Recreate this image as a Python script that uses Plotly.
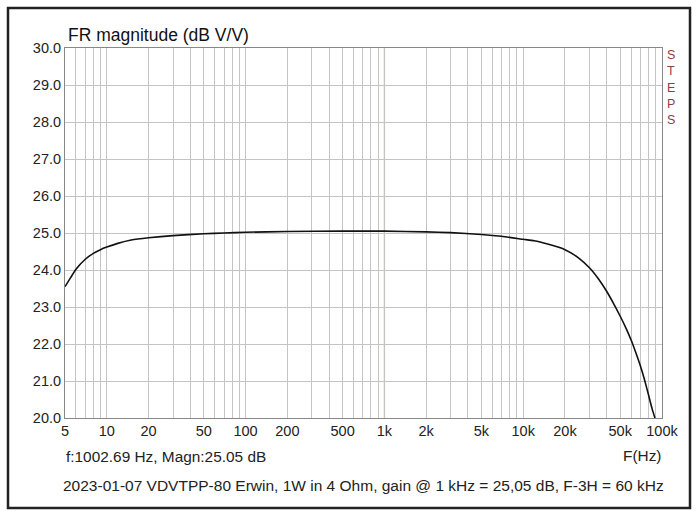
import plotly.graph_objects as go

# ---- data ----
freq_hz = [5, 5.5, 6, 7, 8, 9, 10, 12, 15, 20, 30, 50, 70, 100, 200, 500, 1000,
           2000, 3000, 5000, 7000, 10000, 12000, 15000, 20000, 25000, 30000,
           35000, 40000, 45000, 50000, 55000, 60000, 65000, 70000, 75000,
           80000, 85000, 89000]
magn_db = [23.55, 23.80, 24.02, 24.29, 24.45, 24.55, 24.62, 24.72, 24.81, 24.87,
           24.93, 24.98, 25.00, 25.02, 25.04, 25.05, 25.05, 25.03, 25.01, 24.96,
           24.91, 24.83, 24.79, 24.70, 24.55, 24.33, 24.06, 23.75, 23.42, 23.08,
           22.75, 22.43, 22.10, 21.75, 21.40, 21.02, 20.62, 20.24, 20.0]

grid_freqs = [5, 6, 7, 8, 9, 10, 20, 30, 40, 50, 60, 70, 80, 90, 100,
              200, 300, 400, 500, 600, 700, 800, 900, 1000,
              2000, 3000, 4000, 5000, 6000, 7000, 8000, 9000, 10000,
              20000, 30000, 40000, 50000, 60000, 70000, 80000, 90000, 100000]
label_freqs = [5, 10, 20, 50, 100, 200, 500, 1000, 2000, 5000, 10000, 20000, 50000, 100000]
label_texts = ["5", "10", "20", "50", "100", "200", "500", "1k", "2k", "5k", "10k", "20k", "50k", "100k"]
y_ticks = [20, 21, 22, 23, 24, 25, 26, 27, 28, 29, 30]
marker_freq = 1000
steps_letters = ["S", "T", "E", "P", "S"]

title_text = "FR magnitude (dB V/V)"
cursor_text = "f:1002.69 Hz, Magn:25.05 dB"
xaxis_text = "F(Hz)"
footer_text = "2023-01-07 VDVTPP-80 Erwin, 1W in 4 Ohm, gain @ 1 kHz = 25,05 dB, F-3H = 60 kHz"

# ---- figure ----
W, H = 696, 511
L, R, T, B = 65, 662, 48, 418
FONT = "Liberation Sans, Arial, sans-serif"

ticktext = [label_texts[label_freqs.index(f)] if f in label_freqs else "" for f in grid_freqs]

fig = go.Figure()
fig.add_trace(go.Scatter(x=freq_hz, y=magn_db, mode="lines",
                         line=dict(color="#111111", width=1.6, shape="spline", smoothing=0.5),
                         hoverinfo="skip", showlegend=False))

def px_x(p):
    return (p - L) / (R - L)

def px_y(p):
    return (B - p) / (B - T)

shapes = [
    dict(type="line", xref="x", yref="paper", x0=marker_freq, x1=marker_freq, y0=0, y1=1,
         line=dict(color="#e0d680", width=1.5), layer="between"),
    dict(type="rect", xref="paper", yref="paper", x0=px_x(8), x1=px_x(690), y0=px_y(508), y1=px_y(8),
         line=dict(color="#222222", width=2.5)),
]

annotations = [
    dict(text=title_text, xref="paper", yref="paper", x=px_x(66), y=px_y(35), xanchor="left", yanchor="middle",
         showarrow=False, font=dict(family=FONT, size=17.5, color="#111111")),
    dict(text=cursor_text, xref="paper", yref="paper", x=px_x(64), y=px_y(456), xanchor="left", yanchor="middle",
         showarrow=False, font=dict(family=FONT, size=15.4, color="#222222")),
    dict(text=xaxis_text, xref="paper", yref="paper", x=px_x(663), y=px_y(455), xanchor="right", yanchor="middle",
         showarrow=False, font=dict(family=FONT, size=15.4, color="#222222")),
    dict(text=footer_text, xref="paper", yref="paper", x=px_x(363), y=px_y(486), xanchor="center", yanchor="middle",
         showarrow=False, font=dict(family=FONT, size=15.5, color="#222222")),
    dict(text="<br>".join(steps_letters), xref="paper", yref="paper", x=px_x(665), y=px_y(46),
         xanchor="left", yanchor="top", align="left", showarrow=False,
         font=dict(family=FONT, size=12.5, color="#8b3f3f")),
]

fig.update_layout(
    width=W, height=H,
    margin=dict(l=L, r=W - R, t=T, b=H - B, pad=0),
    paper_bgcolor="white", plot_bgcolor="white",
    shapes=shapes, annotations=annotations,
    xaxis=dict(type="log", range=[0.69897, 5.0], tickmode="array", tickvals=grid_freqs, ticktext=ticktext,
               showgrid=True, gridcolor="#c4c4c4", gridwidth=1, zeroline=False,
               showline=True, linecolor="#888888", linewidth=1, mirror=True, ticks="",
               tickfont=dict(family=FONT, size=14.5, color="#222222")),
    yaxis=dict(range=[20, 30], tickmode="array", tickvals=y_ticks, tickformat=".1f",
               showgrid=True, gridcolor="#c4c4c4", gridwidth=1, zeroline=False,
               showline=True, linecolor="#888888", linewidth=1, mirror=True, ticks="",
               tickfont=dict(family=FONT, size=14.5, color="#222222")),
)

fig.write_html("out.html")
